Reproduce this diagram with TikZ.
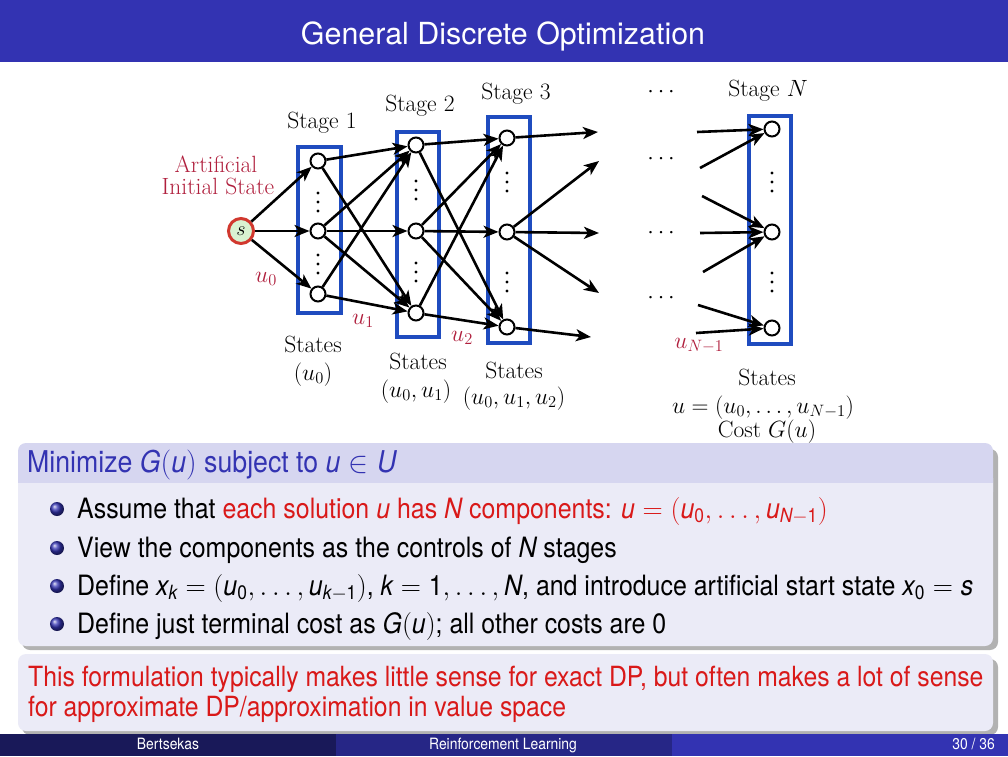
\RequirePackage{fix-cm}
\documentclass[tikz,border=0pt]{standalone}
\usepackage{amsmath,amssymb}
\usepackage{fontspec}
\usetikzlibrary{arrows.meta}
\newfontfamily\slidefont[FakeStretch=0.89]{TeX Gyre Heros}
\newfontfamily\titlefont{TeX Gyre Heros}
\definecolor{struct}{rgb}{0.2,0.2,0.7}
\definecolor{footL}{rgb}{0.1,0.1,0.35}
\definecolor{footM}{rgb}{0.15,0.15,0.525}
\definecolor{btitle}{rgb}{0.84,0.84,0.94}
\definecolor{bbody}{rgb}{0.92,0.92,0.97}
\definecolor{alertred}{rgb}{0.85,0.1,0.1}
\definecolor{dred}{rgb}{0.69,0.12,0.24}
\definecolor{boxblue}{rgb}{0.12,0.3,0.75}
\definecolor{sfill}{rgb}{0.85,0.95,0.82}
\definecolor{sborder}{rgb}{0.82,0.22,0.18}
\newcommand\si[1]{\text{\itshape #1}}
\begin{document}
\begin{tikzpicture}[x=1pt,y=-1pt,
 st/.style={circle,draw,line width=2pt,fill=white,minimum size=15pt,inner sep=0pt},
 arr/.style={line width=2.6pt,-{Stealth[length=15pt,width=12pt,inset=4pt]}},
 stagebox/.style={draw=boxblue,line width=3.2pt},
 dtext/.style={font=\fontsize{23.5}{28}\selectfont,inner sep=0pt,anchor=base},
 dlab/.style={dtext,text=dred},
 body/.style={font=\slidefont\fontsize{28}{34}\selectfont,anchor=base west,inner sep=0pt},
 ball/.style={circle,inner sep=0pt,minimum size=14pt,shading=ball,ball color=struct},
 foot/.style={font=\slidefont\fontsize{15.6}{18}\selectfont,text=white,inner sep=0pt,anchor=base},
]
\useasboundingbox (0,0) rectangle (1008,756);
\fill[white] (0,0) rectangle (1008,756);
% title bar
\fill[struct] (0,0) rectangle (1008,62);
\node[text=white,font=\titlefont\fontsize{30.4}{36}\selectfont,inner sep=0pt,anchor=base] (title) at (503,44) {General Discrete Optimization};

% stage boxes
\draw[stagebox] (298,147) rectangle (341,313);
\draw[stagebox] (397,132) rectangle (439,337);
\draw[stagebox] (488,117) rectangle (530,343);
\draw[stagebox] (749,116) rectangle (791,344);

% vertical dots
\foreach \x/\y in {318/202,318/264,416/190,416/272,507/182,507/282,772/182,772/282}{
  \foreach \d in {-9,0,9}{\fill (\x,\y+\d) circle (1.6);}
}

% nodes
\node[circle,draw=sborder,fill=sfill,line width=3pt,minimum size=25pt,inner sep=0pt,font=\fontsize{20}{24}\selectfont] (s) at (241,231) {$s$};
\node[st] (a1) at (318,161) {};
\node[st] (a2) at (318,231) {};
\node[st] (a3) at (318,294) {};
\node[st] (b1) at (416,145) {};
\node[st] (b2) at (416,231) {};
\node[st] (b3) at (416,313) {};
\node[st] (c1) at (507,138) {};
\node[st] (c2) at (507,232) {};
\node[st] (c3) at (507,327) {};
\node[st] (d1) at (772,129) {};
\node[st] (d2) at (772,232) {};
\node[st] (d3) at (772,328) {};

% free ends
\coordinate (e1) at (598,132);
\coordinate (e2) at (599,161);
\coordinate (e3) at (599,233);
\coordinate (e4) at (599,293);
\coordinate (e5) at (591,337);
\coordinate (f1) at (697,132);
\coordinate (f2) at (700,168);
\coordinate (f3) at (702,196);
\coordinate (f4) at (700,233);
\coordinate (f5) at (703,272);
\coordinate (f6) at (698,305);
\coordinate (f7) at (696,333);

% edges
\foreach \u/\v in {s/a1,s/a2,s/a3,
  a1/b1,a1/b3,a2/b1,a2/b2,a2/b3,a3/b1,a3/b3,
  b1/c1,b1/c3,b2/c1,b2/c2,b2/c3,b3/c1,b3/c3,
  c1/e1,c2/e2,c2/e3,c2/e4,c3/e5,
  f1/d1,f2/d1,f3/d2,f4/d2,f5/d2,f6/d3,f7/d3}{
  \draw[arr] (\u) -- (\v);
}

% horizontal dots
\node[dtext,anchor=center] (h1) at (663,92) {$\cdots$};
\node[dtext,anchor=center] (h2) at (663,159) {$\cdots$};
\node[dtext,anchor=center] (h3) at (663,233) {$\cdots$};
\node[dtext,anchor=center] (h4) at (663,298) {$\cdots$};

% labels
\node[dtext] (l1) at (322,128) {Stage 1};
\node[dtext] (l2) at (420,111) {Stage 2};
\node[dtext] (l3) at (516,99) {Stage 3};
\node[dtext] (lN) at (768,96) {Stage $N$};
\node[dlab] (art1) at (216,172) {Artificial};
\node[dlab] (art2) at (218,194) {Initial State};
\node[dlab] (u0) at (266,282) {$u_0$};
\node[dlab] (u1) at (363,324) {$u_1$};
\node[dlab] (u2) at (462,341) {$u_2$};
\node[dlab] (uN) at (699,348) {$u_{N-1}$};
\node[dtext] (st1) at (313,352) {States};
\node[dtext] (st1b) at (313,380) {$(u_0)$};
\node[dtext] (st2) at (418,369) {States};
\node[dtext] (st2b) at (416,397) {$(u_0,u_1)$};
\node[dtext] (st3) at (514,378) {States};
\node[dtext] (st3b) at (514,404) {$(u_0,u_1,u_2)$};
\node[dtext] (st4) at (767,385) {States};
\node[dtext] (st4b) at (763,413) {$u=(u_0,\ldots,u_{N-1})$};
\node[dtext] (st4c) at (767,437) {Cost $G(u)$};

% block 1
\fill[black!30,rounded corners=8pt] (22,449) rectangle (998,650);
\fill[btitle,rounded corners=8pt] (18,443) rectangle (993,500);
\fill[bbody,rounded corners=8pt] (18,470) rectangle (993,646);
\fill[btitle] (18,460) rectangle (993,483);
\node[body,text=struct,font=\slidefont\fontsize{30}{36}\selectfont] (bt) at (27,472) {Minimize $\si{G}(\si{u})$ subject to $\si{u}\in\si{U}$};
\node[ball] (p1) at (57,509) {};
\node[ball] (p2) at (57,548) {};
\node[ball] (p3) at (57,586) {};
\node[ball] (p4) at (57,624) {};
\node[body] (t1) at (77,518) {Assume that {\color{alertred}each solution $\si{u}$ has $\si{N}$ components: $\si{u}=(\si{u}_{\text{0}},\ldots,\si{u}_{\si{N}-\text{1}})$}};
\node[body] (t2) at (77,557) {View the components as the controls of $\si{N}$ stages};
\node[body] (t3) at (77,595) {Define $\si{x}_{\si{k}}=(\si{u}_{\text{0}},\ldots,\si{u}_{\si{k}-\text{1}})$, $\si{k}=\text{1},\ldots,\si{N}$, and introduce artificial start state $\si{x}_{\text{0}}=\si{s}$};
\node[body] (t4) at (77,633) {Define just terminal cost as $\si{G}(\si{u})$; all other costs are 0};

% block 2
\fill[black!30,rounded corners=8pt] (22,659) rectangle (998,735);
\fill[bbody,rounded corners=8pt] (18,654) rectangle (993,731);
\node[body,text=alertred,font=\slidefont\fontsize{27.8}{34}\selectfont] (r1) at (28,686) {This formulation typically makes little sense for exact DP, but often makes a lot of sense};
\node[body,text=alertred,font=\slidefont\fontsize{27.8}{34}\selectfont] (r2) at (28,716) {for approximate DP/approximation in value space};

% footer
\fill[footL] (0,734) rectangle (336,756);
\fill[footM] (336,734) rectangle (672,756);
\fill[struct] (672,734) rectangle (1008,756);
\node[foot] (fa) at (168,749) {Bertsekas};
\node[foot] (fb) at (503,749) {Reinforcement Learning};
\node[foot,anchor=base east] (fc) at (995,749) {30 / 36};
\end{tikzpicture}
\end{document}
